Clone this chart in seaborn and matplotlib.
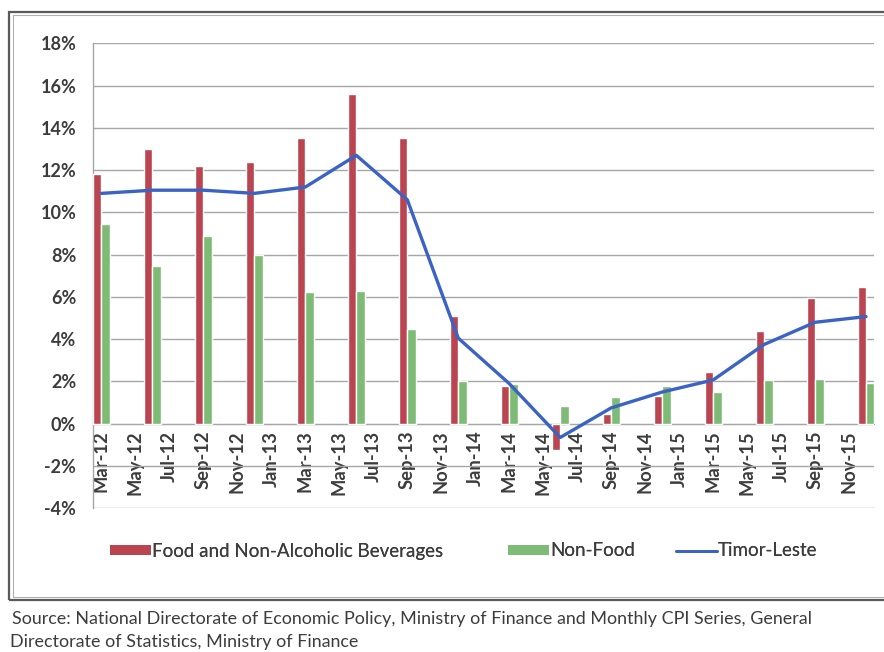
import matplotlib
matplotlib.use("Agg")
import matplotlib.pyplot as plt
from matplotlib.patches import Rectangle, Patch
from matplotlib.lines import Line2D
import matplotlib.ticker as mticker
import numpy as np
import pandas as pd
import seaborn as sns

# Monthly category axis (Mar-12 .. Dec-15), data observed quarterly
months = pd.date_range("2012-03-01", "2015-12-01", freq="MS").strftime("%b-%y").tolist()
quarters = ["Mar-12", "Jun-12", "Sep-12", "Dec-12",
            "Mar-13", "Jun-13", "Sep-13", "Dec-13",
            "Mar-14", "Jun-14", "Sep-14", "Dec-14",
            "Mar-15", "Jun-15", "Sep-15", "Dec-15"]
food = [11.8, 13.0, 12.2, 12.4, 13.5, 15.6, 13.5, 5.1,
        1.8, -1.25, 0.45, 1.3, 2.45, 4.4, 5.95, 6.45]
non_food = [9.45, 7.45, 8.9, 8.0, 6.25, 6.3, 4.5, 2.0,
            1.9, 0.82, 1.27, 1.77, 1.5, 2.05, 2.12, 1.95]
timor_leste = [10.9, 11.05, 11.05, 10.9, 11.2, 12.7, 10.6, 4.05,
               1.9, -0.65, 0.75, 1.5, 2.07, 3.75, 4.8, 5.07]
y_ticks = list(range(-4, 19, 2))

series_names = ["Food and Non-Alcoholic Beverages", "Non-Food", "Timor-Leste"]
colors = {"bar_food": "#BA4550", "bar_nonfood": "#7DBB76", "line": "#3A63C3"}

bars = pd.DataFrame({
    "month": quarters * 2,
    "value": food + non_food,
    "series": [series_names[0]] * len(quarters) + [series_names[1]] * len(quarters),
})

sns.set_style("white")
font = "Lato"
plt.rcParams["font.family"] = [font, "DejaVu Sans"]
text_color = "#3C3C3C"

fig = plt.figure(figsize=(8.84, 6.52), dpi=100)
W, H = 884, 652
ax = fig.add_axes([93 / W, 1 - 508.3 / H, (874.5 - 93) / W, (508.3 - 43.3) / H])

sns.barplot(data=bars, x="month", y="value", hue="series", order=months,
            hue_order=series_names[:2],
            palette=[colors["bar_food"], colors["bar_nonfood"]],
            width=1.0, gap=0, saturation=1, legend=False, ax=ax, zorder=3)

line_x = [months.index(q) for q in quarters]
sns.lineplot(x=line_x, y=timor_leste, color=colors["line"], linewidth=2.4,
             ax=ax, zorder=4)

ax.set_xlim(-0.5, len(months) - 0.5)
ax.set_ylim(-4, 18)
ax.set_xlabel("")
ax.set_ylabel("")

# horizontal gridlines
ax.set_yticks(y_ticks)
ax.yaxis.set_major_formatter(mticker.FuncFormatter(lambda v, p: f"{int(v)}%"))
ax.grid(axis="y", color="#A6A6A6", linewidth=1.0, zorder=0)
ax.set_axisbelow(True)

# category axis sits at the 0% line
ax.spines["bottom"].set_position(("data", 0))
for s in ["top", "right"]:
    ax.spines[s].set_visible(False)
ax.spines["left"].set_color("#A6A6A6")
ax.spines["bottom"].set_color("#A6A6A6")
ax.spines["left"].set_linewidth(1.0)

ax.set_xticks(range(0, len(months), 2))
ax.set_xticklabels(months[::2], rotation=90, fontsize=13.2, color=text_color,
                   fontweight="bold")
ax.set_xticks(np.arange(-0.5, len(months), 2), minor=True)
ax.tick_params(axis="x", which="major", length=0, pad=5)
ax.tick_params(axis="x", which="minor", length=5, color="#A6A6A6", width=1.0)
ax.tick_params(axis="y", length=6, color="#A6A6A6", width=1.0, labelsize=13,
               labelcolor=text_color, pad=6)
for t in ax.get_yticklabels():
    t.set_fontweight("bold")

# legend: one entry per block, laid out in a row under the plot
handles = [
    Patch(facecolor=colors["bar_food"], edgecolor="none"),
    Patch(facecolor=colors["bar_nonfood"], edgecolor="none"),
    Line2D([0], [0], color=colors["line"], linewidth=2.0),
]
legend_left = [110, 508, 676]
for h, name, x0 in zip(handles, series_names, legend_left):
    leg = fig.legend([h], [name], loc="center left",
                     bbox_to_anchor=(x0 / W, 1 - 551 / H),
                     frameon=False, fontsize=13.5, handlelength=2.2, handleheight=0.5,
                     handletextpad=0.05, borderpad=0, borderaxespad=0,
                     labelcolor=text_color)
    fig.add_artist(leg)

# chart frame
fig.add_artist(Rectangle((9 / W, 1 - 600 / H), 880 / W, 588 / H, transform=fig.transFigure,
                         fill=False, edgecolor="#5A5A5A", linewidth=1.6))
fig.add_artist(Rectangle((12.5 / W, 1 - 597 / H), 880 / W, 582 / H, transform=fig.transFigure,
                         fill=False, edgecolor="#B0B0B0", linewidth=0.8))

fig.text(12 / W, 1 - 619 / H,
         "Source: National Directorate of Economic Policy, Ministry of Finance and Monthly CPI Series, General",
         fontsize=12.9, color=text_color, va="center", ha="left")
fig.text(10 / W, 1 - 642 / H, "Directorate of Statistics, Ministry of Finance",
         fontsize=12.9, color=text_color, va="center", ha="left")

fig.savefig("out.png", dpi=100)
